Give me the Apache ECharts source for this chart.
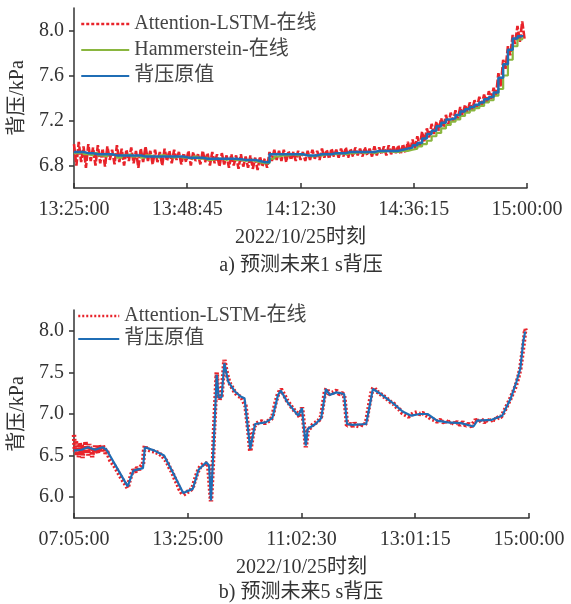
<!DOCTYPE html>
<html>
<head>
<meta charset="utf-8">
<script src="https://cdn.jsdelivr.net/npm/echarts@6/dist/echarts.min.js"></script>
<style>
html,body{margin:0;padding:0;background:#fff;}
#chart{width:571px;height:604px;}
</style>
</head>
<body>
<div id="chart"></div>
<script>
// ---------- Top chart (a): minutes after 13:25:00, one value per minute ----------
const topTickLabels = ['13:25:00','13:48:45','14:12:30','14:36:15','15:00:00'];
const topYTicks = [6.8, 7.2, 7.6, 8.0];

// 背压原值 (step), minute 0..94
const topActual = [
  6.92,6.92,6.91,6.91,6.90,6.90,6.90,
  6.90,6.89,6.89,6.89,6.89,6.89,6.89,6.88,6.88,6.88,6.88,6.88,6.88,6.88,6.88,6.88,
  6.87,6.87,6.87,6.87,6.86,6.86,6.86,6.86,6.86,6.86,6.86,6.855,
  6.85,6.85,6.85,6.84,6.83,6.83,
  6.90,6.90,6.90,6.90,6.90,6.90,6.90,
  6.89,6.89,6.89,6.90,6.90,6.90,6.91,6.91,6.91,6.92,6.92,6.92,
  6.92,6.92,6.92,6.93,6.93,6.93,6.93,6.93,6.94,
  6.95,6.96,6.98,7.00,7.04,7.08,7.11,7.15,7.18,7.21,7.22,7.25,7.28,7.30,7.32,7.34,7.36,7.39,7.41,7.45,7.58,7.70,7.83,7.93,7.95,7.96
];

// Hammerstein-在线, minute 0..94
const topHammerstein = [
  6.91,6.92,6.90,6.89,6.91,6.89,6.88,6.90,6.89,6.87,6.89,
  6.90,6.88,6.89,6.87,6.89,6.88,6.87,6.89,6.88,6.87,6.88,6.87,
  6.87,6.86,6.88,6.86,6.87,6.85,6.86,6.86,6.85,6.86,6.85,6.85,6.84,6.85,6.84,6.83,6.82,6.82,
  6.86,6.88,6.89,6.89,6.90,6.89,6.90,
  6.89,6.88,6.89,6.89,6.90,6.90,6.90,6.91,6.90,6.91,6.91,6.92,
  6.91,6.92,6.91,6.92,6.92,6.93,6.92,6.92,6.93,
  6.93,6.94,6.95,6.97,6.99,7.02,7.06,7.09,7.13,7.16,7.19,7.21,7.24,7.27,7.29,7.31,7.33,7.36,7.38,7.42,7.48,7.60,7.74,7.86,7.92,7.94
];

// Attention-LSTM-在线: [value at minute m, value at m+0.5], minute 0..94
const topAttention = [
  [6.99,6.80],[7.01,6.83],[6.97,6.78],[6.99,6.84],[6.96,6.80],[6.98,6.82],[6.95,6.79],[6.97,6.85],[6.94,6.81],[6.98,6.83],
  [6.95,6.80],[6.94,6.84],[6.96,6.82],[6.93,6.78],[6.95,6.83],[6.97,6.84],[6.93,6.81],[6.94,6.83],[6.92,6.80],[6.95,6.84],
  [6.93,6.82],[6.94,6.85],[6.92,6.81],[6.91,6.83],[6.93,6.80],[6.92,6.84],[6.90,6.81],[6.93,6.83],[6.91,6.80],[6.92,6.82],
  [6.90,6.79],[6.91,6.81],[6.89,6.78],[6.90,6.80],[6.89,6.77],[6.90,6.79],[6.88,6.78],[6.89,6.77],[6.87,6.76],[6.88,6.79],
  [6.86,6.78],[6.92,6.84],[6.94,6.85],[6.93,6.84],[6.94,6.83],[6.93,6.85],[6.92,6.84],[6.93,6.85],[6.92,6.84],[6.93,6.85],
  [6.94,6.86],[6.93,6.85],[6.95,6.87],[6.94,6.86],[6.95,6.88],[6.94,6.87],[6.95,6.88],[6.96,6.87],[6.95,6.88],[6.96,6.89],
  [6.95,6.88],[6.96,6.89],[6.95,6.88],[6.97,6.89],[6.96,6.90],[6.97,6.89],[6.98,6.90],[6.97,6.91],[6.98,6.90],[6.99,6.91],
  [7.01,6.93],[7.03,6.95],[7.06,6.97],[7.10,7.01],[7.13,7.05],[7.17,7.08],[7.19,7.11],[7.22,7.14],[7.25,7.16],[7.27,7.19],
  [7.29,7.21],[7.32,7.24],[7.34,7.27],[7.36,7.29],[7.38,7.31],[7.41,7.34],[7.43,7.36],[7.46,7.39],[7.49,7.42],[7.62,7.50],
  [7.74,7.66],[7.86,7.78],[7.96,7.88],[8.04,7.90],[8.08,7.92]
];

// ---------- Bottom chart (b): minutes after 07:05:00 ----------
const bottomTickLabels = ['07:05:00','13:25:00','11:02:30','13:01:15','15:00:00'];
const bottomYTicks = [6.0, 6.5, 7.0, 7.5, 8.0];

// 背压原值: [minute, value]
const bottomActual = [
  [0,6.56],[8,6.57],[14.5,6.60],[22,6.57],[30,6.60],[34,6.57],[45,6.35],[56,6.13],[62,6.32],[72,6.35],
  [74,6.60],[84,6.56],[94,6.50],[104,6.28],[114,6.05],[124,6.10],[130,6.33],[138,6.42],[141,6.38],[143,5.96],
  [146,6.68],[149,7.47],[151,7.20],[154,7.20],[157,7.61],[161,7.39],[168,7.27],[174,7.21],[178,7.19],[184,6.58],
  [189,6.88],[200,6.90],[207,6.95],[213,7.23],[216,7.28],[223,7.14],[234,6.98],[238,7.07],[239,6.95],[242,6.62],
  [244,6.82],[252,6.88],[258,6.95],[263,7.30],[267,7.23],[274,7.26],[282,7.24],[285,6.88],[291,6.87],[305,6.88],
  [312,7.30],[319,7.25],[333,7.13],[343,7.03],[352,6.98],[361,7.00],[369,7.00],[379,6.92],[390,6.90],[404,6.89],
  [417,6.85],[421,6.92],[436,6.93],[447,6.98],[456,7.19],[462,7.39],[466,7.55],[469,7.87],[471,7.99]
];

// Attention-LSTM-在线: [minute, value]
const bottomAttention = [
  [0,6.75],[1,6.55],[2,6.68],[3,6.50],[4,6.62],[5,6.48],[6,6.66],[7,6.53],[8,6.64],[9,6.47],
  [10,6.60],[11,6.52],[12,6.67],[13,6.55],[14,6.62],[15,6.50],[16,6.64],[17,6.56],[18,6.60],[19,6.48],
  [20,6.58],[21,6.53],[22,6.62],[23,6.55],[24,6.60],[25,6.52],[26,6.63],[27,6.56],[28,6.62],[29,6.55],
  [30,6.63],[31,6.57],[32,6.60],[33,6.52],[34,6.57],[36,6.50],[38,6.44],[40,6.45],[42,6.38],[44,6.36],
  [46,6.30],[48,6.28],[50,6.22],[52,6.21],[54,6.15],[56,6.11],[58,6.20],[60,6.28],[62,6.33],[64,6.30],
  [66,6.36],[68,6.33],[70,6.37],[72,6.40],[73,6.55],[74,6.62],[76,6.58],[78,6.60],[80,6.56],[82,6.58],
  [84,6.55],[86,6.56],[88,6.53],[90,6.54],[92,6.50],[94,6.48],[96,6.44],[98,6.40],[100,6.35],[102,6.31],
  [104,6.26],[106,6.20],[108,6.16],[110,6.10],[112,6.06],[114,6.03],[116,6.04],[118,6.06],[120,6.05],[122,6.09],
  [124,6.12],[126,6.20],[128,6.27],[130,6.33],[132,6.37],[134,6.38],[136,6.41],[138,6.43],[140,6.40],[142,6.10],
  [143,5.95],[145,6.40],[146,6.75],[148,7.25],[149,7.50],[150,7.30],[151,7.22],[152,7.18],[154,7.22],[156,7.50],
  [157,7.65],[159,7.52],[161,7.42],[163,7.36],[165,7.32],[167,7.28],[169,7.27],[171,7.22],[173,7.22],[175,7.20],
  [177,7.21],[179,7.10],[182,6.80],[184,6.55],[186,6.70],[188,6.85],[190,6.88],[193,6.90],[196,6.91],[199,6.89],
  [202,6.91],[205,6.93],[207,6.96],[210,7.12],[213,7.24],[216,7.30],[219,7.24],[222,7.17],[225,7.12],[228,7.07],
  [231,7.03],[234,7.00],[236,6.96],[238,7.08],[239,6.98],[241,6.75],[242,6.60],[244,6.80],[247,6.84],[250,6.88],
  [253,6.90],[256,6.93],[258,6.97],[260,7.12],[262,7.27],[264,7.31],[266,7.24],[268,7.22],[271,7.26],[274,7.28],
  [277,7.24],[280,7.25],[282,7.22],[284,7.00],[285,6.86],[287,6.84],[289,6.88],[291,6.85],[293,6.89],[295,6.86],
  [297,6.87],[299,6.85],[301,6.89],[303,6.86],[305,6.90],[308,7.10],[311,7.28],[313,7.32],[316,7.27],[319,7.25],
  [322,7.22],[325,7.20],[328,7.17],[331,7.14],[334,7.12],[337,7.08],[340,7.05],[343,7.01],[346,6.99],[349,6.97],
  [352,6.99],[355,7.01],[358,7.02],[361,7.00],[364,7.01],[367,6.99],[370,6.97],[373,6.94],[376,6.93],[379,6.91],
  [382,6.93],[385,6.90],[388,6.92],[391,6.89],[394,6.91],[397,6.88],[400,6.90],[403,6.87],[406,6.90],[409,6.86],
  [412,6.88],[415,6.85],[417,6.84],[419,6.93],[422,6.91],[425,6.94],[428,6.90],[431,6.93],[434,6.91],[437,6.94],
  [440,6.93],[443,6.96],[446,6.97],[449,7.03],[452,7.10],[455,7.17],[458,7.25],[461,7.33],[464,7.45],[466,7.55],
  [468,7.72],[470,7.90],[471,8.02],[472,7.99]
];

// ---------- build ----------
const FONT = "'Liberation Serif','Noto Sans CJK SC',serif";
const TXT = '#333';
const RED = '#e8232a', GREEN = '#8ab63f', BLUE = '#1f6db5';

const topActualData = topActual.map((v, i) => [i, v]);
const topHamData = topHammerstein.map((v, i) => [i, v]);
const topAttData = [];
topAttention.forEach((p, i) => { topAttData.push([i, p[0]]); topAttData.push([i + 0.5, p[1]]); });

function xAxisCfg(grid, max, interval, labels, gap) {
  return {
    gridIndex: grid, type: 'value', min: 0, max: max, interval: interval,
    axisLine: { lineStyle: { color: TXT, width: 1.5 } },
    axisTick: { inside: true, length: 5, lineStyle: { color: TXT, width: 1.5 } },
    axisLabel: { margin: 12, fontSize: 20, color: TXT, fontFamily: FONT,
      formatter: v => labels[Math.round(v / interval)] },
    splitLine: { show: false },
    name: '2022/10/25时刻', nameLocation: 'middle', nameGap: gap,
    nameTextStyle: { fontSize: 20, color: TXT, fontFamily: FONT }
  };
}
function yAxisCfg(grid, min, max, ticks) {
  return {
    gridIndex: grid, type: 'value', min: min, max: max,
    axisLine: { show: true, lineStyle: { color: TXT, width: 1.5 } },
    axisTick: { show: true, inside: false, length: 5, customValues: ticks, lineStyle: { color: TXT, width: 1.5 } },
    axisLabel: { margin: 10, fontSize: 20, color: TXT, fontFamily: FONT, customValues: ticks,
      formatter: v => Number(v).toFixed(1) },
    splitLine: { show: false },
    name: '背压/kPa', nameLocation: 'middle', nameGap: 46, nameRotate: 90,
    nameTextStyle: { fontSize: 20, color: TXT, fontFamily: FONT }
  };
}

const legendText = { fontSize: 20, lineHeight: 20, color: '#444', fontFamily: FONT };

const chart = echarts.init(document.getElementById('chart'));
chart.setOption({
  backgroundColor: '#fff',
  animation: false,
  grid: [
    { left: 71, right: 44, top: 8, height: 180 },
    { left: 73, right: 42, top: 310, height: 208 }
  ],
  xAxis: [
    xAxisCfg(0, 95, 23.75, topTickLabels, 40),
    xAxisCfg(1, 475, 118.75, bottomTickLabels, 40)
  ],
  yAxis: [
    yAxisCfg(0, 6.6, 8.2, topYTicks),
    yAxisCfg(1, 5.75, 8.25, bottomYTicks)
  ],
  legend: [
    { orient: 'vertical', left: 80, top: 14, padding: 0, itemWidth: 48, itemHeight: 14, itemGap: 6,
      itemStyle: { opacity: 0 },
      textStyle: legendText,
      data: [
        { name: 'Attention-LSTM-在线', lineStyle: { type: [3, 2], width: 2.5, color: RED } },
        { name: 'Hammerstein-在线' },
        { name: '背压原值' }
      ] },
    { orient: 'vertical', left: 77, top: 306, padding: 0, itemWidth: 41, itemHeight: 14, itemGap: 3,
      itemStyle: { opacity: 0 },
      textStyle: legendText,
      data: [
        { name: 'Attention-LSTM-在线', lineStyle: { type: [2, 2], width: 2.5, color: RED } },
        { name: '背压原值' }
      ] }
  ],
  series: [
    { name: 'Attention-LSTM-在线', type: 'line', xAxisIndex: 0, yAxisIndex: 0, symbol: 'none',
      data: topAttData, lineStyle: { color: RED, width: 2.6, type: [8, 2] }, itemStyle: { color: RED }, z: 2 },
    { name: 'Hammerstein-在线', type: 'line', xAxisIndex: 0, yAxisIndex: 0, symbol: 'none', step: 'end',
      data: topHamData, lineStyle: { color: GREEN, width: 2.2 }, itemStyle: { color: GREEN }, z: 3 },
    { name: '背压原值', type: 'line', xAxisIndex: 0, yAxisIndex: 0, symbol: 'none', step: 'end',
      data: topActualData, lineStyle: { color: BLUE, width: 2.5 }, itemStyle: { color: BLUE }, z: 4 },
    { name: 'Attention-LSTM-在线', type: 'line', xAxisIndex: 1, yAxisIndex: 1, symbol: 'none',
      data: bottomAttention, lineStyle: { color: RED, width: 4.5, type: [2, 2] }, itemStyle: { color: RED }, z: 2 },
    { name: '背压原值', type: 'line', xAxisIndex: 1, yAxisIndex: 1, symbol: 'none',
      data: bottomActual, lineStyle: { color: BLUE, width: 2.2 }, itemStyle: { color: BLUE }, z: 4 }
  ],
  graphic: [
    { type: 'text', x: 301, y: 266, style: { text: 'a) 预测未来1 s背压', fill: TXT,
      font: "20px " + FONT, align: 'center', verticalAlign: 'middle' } },
    { type: 'text', x: 301, y: 593, style: { text: 'b) 预测未来5 s背压', fill: TXT,
      font: "20px " + FONT, align: 'center', verticalAlign: 'middle' } }
  ]
});
</script>
</body>
</html>
